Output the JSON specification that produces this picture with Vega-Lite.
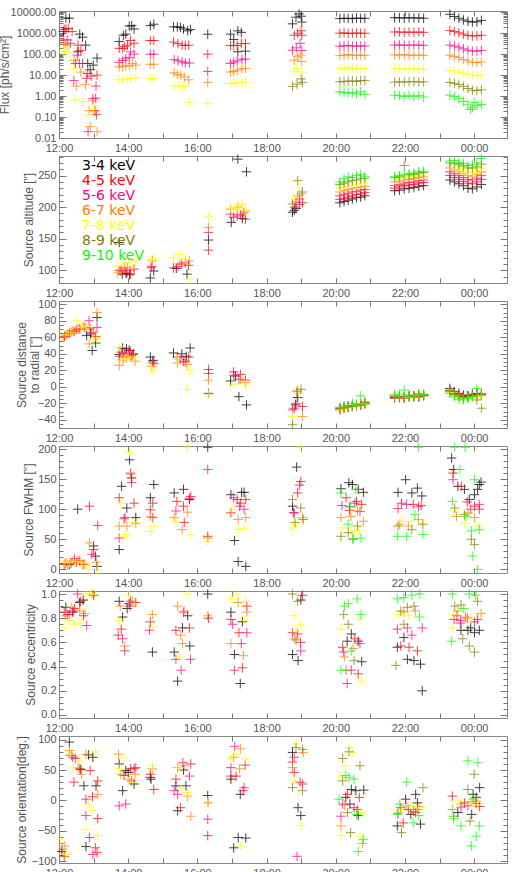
{
"$schema":"https://vega.github.io/schema/vega-lite/v6.json",
"padding":{"left":-3,"top":5,"right":0,"bottom":0},
"background":"white",
"spacing":18,
"bounds":"flush",
"config":{"view":{"stroke":"#888","strokeWidth":1},"font":"Liberation Sans",
"axis":{"grid":false,"domain":false,"tickColor":"#777","tickWidth":1,"tickSize":-5,"labelFont":"Liberation Sans","labelFontSize":11,"labelColor":"#555","labelPadding":9,"titleFont":"Liberation Sans","titleFontSize":12,"titleFontWeight":"normal","titleColor":"#555","labelOverlap":false,"labelBound":false,"labelFlush":false}},
"resolve":{"legend":{"color":"independent"}},
"datasets":{
"p1":[
{"t":12.13,"b":"3-4","v":1200},{"t":12.2,"b":"3-4","v":5300},{"t":12.3,"b":"3-4","v":5200},{"t":12.55,"b":"3-4","v":130},{"t":12.6,"b":"3-4","v":900},{"t":12.68,"b":"3-4","v":650},{"t":12.77,"b":"3-4","v":270},{"t":12.83,"b":"3-4","v":36},{"t":12.9,"b":"3-4","v":18},{"t":12.99,"b":"3-4","v":30},{"t":13.1,"b":"3-4","v":65},
{"t":12.15,"b":"4-5","v":1500},{"t":12.2,"b":"4-5","v":1600},{"t":12.27,"b":"4-5","v":1700},{"t":12.38,"b":"4-5","v":1200},{"t":12.48,"b":"4-5","v":36},{"t":12.55,"b":"4-5","v":270},{"t":12.63,"b":"4-5","v":150},{"t":12.68,"b":"4-5","v":36},{"t":12.83,"b":"4-5","v":12},{"t":12.93,"b":"4-5","v":9},{"t":13.04,"b":"4-5","v":0.2},{"t":13.08,"b":"4-5","v":0.13},{"t":13.1,"b":"4-5","v":10},
{"t":12.14,"b":"5-6","v":480},{"t":12.24,"b":"5-6","v":480},{"t":12.33,"b":"5-6","v":330},{"t":12.43,"b":"5-6","v":5.5},{"t":12.53,"b":"5-6","v":90},{"t":12.59,"b":"5-6","v":36},{"t":12.8,"b":"5-6","v":7},{"t":12.84,"b":"5-6","v":0.02},{"t":12.98,"b":"5-6","v":0.75},{"t":13.06,"b":"5-6","v":0.8},{"t":13.07,"b":"5-6","v":3},
{"t":12.14,"b":"6-7","v":300},{"t":12.19,"b":"6-7","v":300},{"t":12.26,"b":"6-7","v":270},{"t":12.43,"b":"6-7","v":50},{"t":12.5,"b":"6-7","v":3},{"t":12.63,"b":"6-7","v":14},{"t":12.77,"b":"6-7","v":3.5},{"t":12.87,"b":"6-7","v":0.2},{"t":12.9,"b":"6-7","v":0.035},{"t":12.98,"b":"6-7","v":0.6},{"t":13.1,"b":"6-7","v":0.02},
{"t":12.12,"b":"7-8","v":130},{"t":12.19,"b":"7-8","v":130},{"t":12.29,"b":"7-8","v":115},{"t":12.43,"b":"7-8","v":20},{"t":12.47,"b":"7-8","v":0.65},{"t":12.69,"b":"7-8","v":0.55},{"t":12.84,"b":"7-8","v":0.12},{"t":13.0,"b":"7-8","v":0.25},
{"t":13.74,"b":"3-4","v":400},{"t":13.86,"b":"3-4","v":800},{"t":13.93,"b":"3-4","v":900},{"t":14.03,"b":"3-4","v":2200},{"t":14.1,"b":"3-4","v":2300},{"t":14.17,"b":"3-4","v":1600},
{"t":13.74,"b":"4-5","v":190},{"t":13.84,"b":"4-5","v":190},{"t":13.9,"b":"4-5","v":230},{"t":13.98,"b":"4-5","v":270},{"t":14.07,"b":"4-5","v":450},{"t":14.17,"b":"4-5","v":330},
{"t":13.74,"b":"5-6","v":40},{"t":13.84,"b":"5-6","v":50},{"t":13.93,"b":"5-6","v":60},{"t":14.03,"b":"5-6","v":70},{"t":14.07,"b":"5-6","v":130},{"t":14.17,"b":"5-6","v":100},
{"t":13.74,"b":"6-7","v":25},{"t":13.84,"b":"6-7","v":25},{"t":13.93,"b":"6-7","v":28},{"t":14.03,"b":"6-7","v":28},{"t":14.12,"b":"6-7","v":36},{"t":14.22,"b":"6-7","v":30},
{"t":13.74,"b":"7-8","v":6},{"t":13.84,"b":"7-8","v":6},{"t":13.97,"b":"7-8","v":6.5},{"t":14.07,"b":"7-8","v":7},{"t":14.22,"b":"7-8","v":7.5},
{"t":14.64,"b":"3-4","v":2300},{"t":14.74,"b":"3-4","v":2700},{"t":14.64,"b":"4-5","v":450},{"t":14.74,"b":"4-5","v":450},{"t":14.64,"b":"5-6","v":100},{"t":14.74,"b":"5-6","v":100},{"t":14.64,"b":"6-7","v":33},{"t":14.74,"b":"6-7","v":33},{"t":14.64,"b":"7-8","v":7},{"t":14.74,"b":"7-8","v":7},
{"t":15.31,"b":"3-4","v":2000},{"t":15.42,"b":"3-4","v":2000},{"t":15.51,"b":"3-4","v":1900},{"t":15.6,"b":"3-4","v":1600},{"t":15.72,"b":"3-4","v":1300},{"t":15.8,"b":"3-4","v":1500},
{"t":15.31,"b":"4-5","v":380},{"t":15.44,"b":"4-5","v":320},{"t":15.56,"b":"4-5","v":270},{"t":15.65,"b":"4-5","v":260},{"t":15.75,"b":"4-5","v":270},
{"t":15.33,"b":"5-6","v":55},{"t":15.44,"b":"5-6","v":48},{"t":15.56,"b":"5-6","v":43},{"t":15.65,"b":"5-6","v":38},{"t":15.77,"b":"5-6","v":38},
{"t":15.33,"b":"6-7","v":13},{"t":15.42,"b":"6-7","v":11},{"t":15.52,"b":"6-7","v":10},{"t":15.62,"b":"6-7","v":8},{"t":15.75,"b":"6-7","v":6},
{"t":15.33,"b":"7-8","v":3},{"t":15.47,"b":"7-8","v":3},{"t":15.56,"b":"7-8","v":3},{"t":15.65,"b":"7-8","v":3},{"t":15.77,"b":"7-8","v":0.5},
{"t":16.3,"b":"3-4","v":900},{"t":16.3,"b":"4-5","v":100},{"t":16.3,"b":"5-6","v":15},{"t":16.3,"b":"6-7","v":4.5},{"t":16.3,"b":"7-8","v":0.45},
{"t":16.96,"b":"3-4","v":900},{"t":17.05,"b":"3-4","v":500},{"t":17.17,"b":"3-4","v":1300},{"t":17.27,"b":"3-4","v":1100},{"t":17.17,"b":"3-4","v":130},{"t":17.39,"b":"3-4","v":140},
{"t":16.96,"b":"4-5","v":260},{"t":17.05,"b":"4-5","v":260},{"t":17.15,"b":"4-5","v":260},{"t":17.27,"b":"4-5","v":320},{"t":17.39,"b":"4-5","v":320},
{"t":16.96,"b":"5-6","v":36},{"t":17.05,"b":"5-6","v":42},{"t":17.15,"b":"5-6","v":48},{"t":17.29,"b":"5-6","v":58},{"t":17.39,"b":"5-6","v":58},
{"t":16.96,"b":"6-7","v":14},{"t":17.05,"b":"6-7","v":15},{"t":17.15,"b":"6-7","v":17},{"t":17.29,"b":"6-7","v":20},{"t":17.39,"b":"6-7","v":21},
{"t":16.96,"b":"7-8","v":4},{"t":17.05,"b":"7-8","v":4},{"t":17.15,"b":"7-8","v":4.3},{"t":17.29,"b":"7-8","v":4.6},{"t":17.39,"b":"7-8","v":4.6},
{"t":18.75,"b":"3-4","v":2800},{"t":18.85,"b":"3-4","v":5800},{"t":18.94,"b":"3-4","v":8300},{"t":19.0,"b":"3-4","v":6500},{"t":19.02,"b":"3-4","v":3400},
{"t":18.8,"b":"4-5","v":800},{"t":18.9,"b":"4-5","v":1000},{"t":19.0,"b":"4-5","v":1300},{"t":19.02,"b":"4-5","v":800},
{"t":18.75,"b":"5-6","v":155},{"t":18.86,"b":"5-6","v":200},{"t":18.97,"b":"5-6","v":330},{"t":19.02,"b":"5-6","v":150},
{"t":18.8,"b":"6-7","v":52},{"t":18.9,"b":"6-7","v":75},{"t":18.97,"b":"6-7","v":90},{"t":19.02,"b":"6-7","v":45},
{"t":18.8,"b":"7-8","v":15},{"t":18.88,"b":"7-8","v":21},{"t":19.02,"b":"7-8","v":14},
{"t":18.75,"b":"8-9","v":2.9},{"t":18.88,"b":"8-9","v":3.7},{"t":19.0,"b":"8-9","v":6.6},{"t":19.04,"b":"8-9","v":4.5},
{"t":20.12,"b":"3-4","v":5000},{"t":20.24,"b":"3-4","v":5200},{"t":20.36,"b":"3-4","v":5100},{"t":20.48,"b":"3-4","v":5000},{"t":20.6,"b":"3-4","v":5300},{"t":20.72,"b":"3-4","v":5100},{"t":20.84,"b":"3-4","v":5200},
{"t":20.12,"b":"4-5","v":1000},{"t":20.24,"b":"4-5","v":1050},{"t":20.36,"b":"4-5","v":980},{"t":20.48,"b":"4-5","v":1000},{"t":20.6,"b":"4-5","v":1020},{"t":20.72,"b":"4-5","v":990},{"t":20.84,"b":"4-5","v":1000},
{"t":20.12,"b":"5-6","v":240},{"t":20.24,"b":"5-6","v":250},{"t":20.36,"b":"5-6","v":260},{"t":20.48,"b":"5-6","v":245},{"t":20.6,"b":"5-6","v":240},{"t":20.72,"b":"5-6","v":250},{"t":20.84,"b":"5-6","v":245},
{"t":20.12,"b":"6-7","v":85},{"t":20.24,"b":"6-7","v":90},{"t":20.36,"b":"6-7","v":95},{"t":20.48,"b":"6-7","v":90},{"t":20.6,"b":"6-7","v":88},{"t":20.72,"b":"6-7","v":90},{"t":20.84,"b":"6-7","v":88},
{"t":20.12,"b":"7-8","v":20},{"t":20.24,"b":"7-8","v":22},{"t":20.36,"b":"7-8","v":21},{"t":20.48,"b":"7-8","v":22},{"t":20.6,"b":"7-8","v":21},{"t":20.72,"b":"7-8","v":20},{"t":20.84,"b":"7-8","v":21},
{"t":20.12,"b":"8-9","v":4.8},{"t":20.24,"b":"8-9","v":5},{"t":20.36,"b":"8-9","v":5.2},{"t":20.48,"b":"8-9","v":5.3},{"t":20.6,"b":"8-9","v":5},{"t":20.72,"b":"8-9","v":5.5},{"t":20.84,"b":"8-9","v":5.6},
{"t":20.12,"b":"9-10","v":1.6},{"t":20.24,"b":"9-10","v":1.5},{"t":20.36,"b":"9-10","v":1.4},{"t":20.48,"b":"9-10","v":1.5},{"t":20.6,"b":"9-10","v":1.3},{"t":20.72,"b":"9-10","v":1.6},{"t":20.84,"b":"9-10","v":1.2},
{"t":21.7,"b":"3-4","v":5500},{"t":21.84,"b":"3-4","v":5400},{"t":21.98,"b":"3-4","v":5300},{"t":22.12,"b":"3-4","v":5500},{"t":22.26,"b":"3-4","v":5300},{"t":22.4,"b":"3-4","v":5400},{"t":22.54,"b":"3-4","v":5200},
{"t":21.7,"b":"4-5","v":1150},{"t":21.84,"b":"4-5","v":1150},{"t":21.98,"b":"4-5","v":1100},{"t":22.12,"b":"4-5","v":1150},{"t":22.26,"b":"4-5","v":1100},{"t":22.4,"b":"4-5","v":1150},{"t":22.54,"b":"4-5","v":1100},
{"t":21.7,"b":"5-6","v":270},{"t":21.84,"b":"5-6","v":275},{"t":21.98,"b":"5-6","v":270},{"t":22.12,"b":"5-6","v":265},{"t":22.26,"b":"5-6","v":275},{"t":22.4,"b":"5-6","v":270},{"t":22.54,"b":"5-6","v":265},
{"t":21.7,"b":"6-7","v":92},{"t":21.84,"b":"6-7","v":90},{"t":21.98,"b":"6-7","v":95},{"t":22.12,"b":"6-7","v":90},{"t":22.26,"b":"6-7","v":88},{"t":22.4,"b":"6-7","v":90},{"t":22.54,"b":"6-7","v":88},
{"t":21.7,"b":"7-8","v":20},{"t":21.84,"b":"7-8","v":21},{"t":21.98,"b":"7-8","v":20},{"t":22.12,"b":"7-8","v":20},{"t":22.26,"b":"7-8","v":21},{"t":22.4,"b":"7-8","v":19},{"t":22.54,"b":"7-8","v":19},
{"t":21.7,"b":"8-9","v":4.6},{"t":21.84,"b":"8-9","v":4.8},{"t":21.98,"b":"8-9","v":4.7},{"t":22.12,"b":"8-9","v":4.8},{"t":22.26,"b":"8-9","v":4.9},{"t":22.4,"b":"8-9","v":4.7},{"t":22.54,"b":"8-9","v":4.8},
{"t":21.7,"b":"9-10","v":1.1},{"t":21.84,"b":"9-10","v":1.05},{"t":21.98,"b":"9-10","v":0.95},{"t":22.12,"b":"9-10","v":1.1},{"t":22.26,"b":"9-10","v":0.95},{"t":22.4,"b":"9-10","v":1.05},{"t":22.54,"b":"9-10","v":0.9},
{"t":23.3,"b":"3-4","v":8000},{"t":23.43,"b":"3-4","v":6300},{"t":23.56,"b":"3-4","v":5200},{"t":23.69,"b":"3-4","v":4300},{"t":23.82,"b":"3-4","v":3700},{"t":23.95,"b":"3-4","v":3400},{"t":24.08,"b":"3-4","v":3500},{"t":24.21,"b":"3-4","v":4100},
{"t":23.3,"b":"4-5","v":1350},{"t":23.43,"b":"4-5","v":1200},{"t":23.56,"b":"4-5","v":1050},{"t":23.69,"b":"4-5","v":900},{"t":23.82,"b":"4-5","v":780},{"t":23.95,"b":"4-5","v":740},{"t":24.08,"b":"4-5","v":750},{"t":24.21,"b":"4-5","v":800},
{"t":23.3,"b":"5-6","v":270},{"t":23.43,"b":"5-6","v":245},{"t":23.56,"b":"5-6","v":215},{"t":23.69,"b":"5-6","v":180},{"t":23.82,"b":"5-6","v":155},{"t":23.95,"b":"5-6","v":140},{"t":24.08,"b":"5-6","v":140},{"t":24.21,"b":"5-6","v":150},
{"t":23.3,"b":"6-7","v":90},{"t":23.43,"b":"6-7","v":78},{"t":23.56,"b":"6-7","v":68},{"t":23.69,"b":"6-7","v":56},{"t":23.82,"b":"6-7","v":47},{"t":23.95,"b":"6-7","v":41},{"t":24.08,"b":"6-7","v":40},{"t":24.21,"b":"6-7","v":42},
{"t":23.3,"b":"7-8","v":17},{"t":23.43,"b":"7-8","v":16},{"t":23.56,"b":"7-8","v":14.5},{"t":23.69,"b":"7-8","v":12.5},{"t":23.82,"b":"7-8","v":11},{"t":23.95,"b":"7-8","v":9.8},{"t":24.08,"b":"7-8","v":9.5},{"t":24.21,"b":"7-8","v":10},
{"t":23.3,"b":"8-9","v":4.5},{"t":23.43,"b":"8-9","v":4.1},{"t":23.56,"b":"8-9","v":3.6},{"t":23.69,"b":"8-9","v":2.9},{"t":23.82,"b":"8-9","v":2.3},{"t":23.95,"b":"8-9","v":1.9},{"t":24.08,"b":"8-9","v":1.8},{"t":24.21,"b":"8-9","v":2.0},
{"t":23.3,"b":"9-10","v":1.1},{"t":23.43,"b":"9-10","v":0.95},{"t":23.56,"b":"9-10","v":0.75},{"t":23.69,"b":"9-10","v":0.55},{"t":23.82,"b":"9-10","v":0.38},{"t":23.95,"b":"9-10","v":0.28},{"t":24.08,"b":"9-10","v":0.35},{"t":24.21,"b":"9-10","v":0.4},{"t":23.9,"b":"9-10","v":0.23},{"t":24.0,"b":"9-10","v":0.5}
],
"p2":[
{"t":13.74,"b":"3-4","v":144},{"t":13.83,"b":"3-4","v":94},{"t":13.96,"b":"3-4","v":95},{"t":14.04,"b":"3-4","v":93},
{"t":13.79,"b":"4-5","v":99},{"t":13.93,"b":"4-5","v":96},{"t":14.07,"b":"4-5","v":94},{"t":14.17,"b":"4-5","v":102},
{"t":13.74,"b":"5-6","v":100},{"t":13.9,"b":"5-6","v":104},{"t":14.05,"b":"5-6","v":100},
{"t":13.7,"b":"6-7","v":96},{"t":13.81,"b":"6-7","v":102},{"t":13.98,"b":"6-7","v":104},
{"t":13.7,"b":"7-8","v":107},{"t":13.88,"b":"7-8","v":112},{"t":14.02,"b":"7-8","v":113},{"t":14.12,"b":"7-8","v":104},{"t":14.22,"b":"7-8","v":115},
{"t":14.64,"b":"3-4","v":88},{"t":14.74,"b":"3-4","v":99},{"t":14.66,"b":"4-5","v":104},{"t":14.68,"b":"5-6","v":106},{"t":14.7,"b":"6-7","v":115},{"t":14.66,"b":"7-8","v":117},{"t":14.76,"b":"7-8","v":119},
{"t":15.39,"b":"3-4","v":103},{"t":15.7,"b":"3-4","v":94},{"t":15.31,"b":"4-5","v":104},{"t":15.55,"b":"4-5","v":110},{"t":15.74,"b":"4-5","v":108},{"t":15.44,"b":"5-6","v":106},{"t":15.65,"b":"5-6","v":112},{"t":15.49,"b":"6-7","v":110},{"t":15.77,"b":"6-7","v":115},{"t":15.31,"b":"7-8","v":120},{"t":15.5,"b":"7-8","v":125},{"t":15.65,"b":"7-8","v":118},{"t":15.78,"b":"7-8","v":86},
{"t":16.32,"b":"3-4","v":148},{"t":16.32,"b":"4-5","v":132},{"t":16.32,"b":"5-6","v":160},{"t":16.32,"b":"6-7","v":168},{"t":16.32,"b":"7-8","v":185},
{"t":16.98,"b":"3-4","v":176},{"t":17.17,"b":"3-4","v":276},{"t":17.42,"b":"3-4","v":256},{"t":17.3,"b":"3-4","v":182},
{"t":17.05,"b":"4-5","v":184},{"t":17.25,"b":"4-5","v":188},{"t":17.39,"b":"4-5","v":181},
{"t":16.96,"b":"5-6","v":189},{"t":17.15,"b":"5-6","v":186},{"t":17.34,"b":"5-6","v":191},
{"t":16.96,"b":"6-7","v":197},{"t":17.17,"b":"6-7","v":200},{"t":17.39,"b":"6-7","v":194},
{"t":16.96,"b":"7-8","v":200},{"t":17.1,"b":"7-8","v":198},{"t":17.2,"b":"7-8","v":203},{"t":17.29,"b":"7-8","v":205},{"t":17.39,"b":"7-8","v":195},
{"t":18.75,"b":"3-4","v":192},{"t":18.8,"b":"3-4","v":195},{"t":18.85,"b":"3-4","v":198},
{"t":18.8,"b":"4-5","v":200},{"t":18.95,"b":"4-5","v":204},{"t":19.04,"b":"4-5","v":207},
{"t":18.85,"b":"5-6","v":208},{"t":18.95,"b":"5-6","v":213},
{"t":18.9,"b":"6-7","v":218},{"t":19.0,"b":"6-7","v":221},
{"t":18.8,"b":"7-8","v":214},{"t":18.95,"b":"7-8","v":231},
{"t":18.75,"b":"8-9","v":205},{"t":18.9,"b":"8-9","v":242},{"t":19.04,"b":"8-9","v":224},
{"t":20.12,"b":"3-4","v":207},{"t":20.24,"b":"3-4","v":209},{"t":20.36,"b":"3-4","v":211},{"t":20.48,"b":"3-4","v":213},{"t":20.6,"b":"3-4","v":215},{"t":20.72,"b":"3-4","v":216},{"t":20.84,"b":"3-4","v":218},
{"t":20.12,"b":"4-5","v":212},{"t":20.24,"b":"4-5","v":214},{"t":20.36,"b":"4-5","v":216},{"t":20.48,"b":"4-5","v":218},{"t":20.6,"b":"4-5","v":220},{"t":20.72,"b":"4-5","v":221},{"t":20.84,"b":"4-5","v":223},
{"t":20.12,"b":"5-6","v":218},{"t":20.24,"b":"5-6","v":220},{"t":20.36,"b":"5-6","v":222},{"t":20.48,"b":"5-6","v":224},{"t":20.6,"b":"5-6","v":225},{"t":20.72,"b":"5-6","v":227},{"t":20.84,"b":"5-6","v":228},
{"t":20.12,"b":"6-7","v":224},{"t":20.24,"b":"6-7","v":226},{"t":20.36,"b":"6-7","v":228},{"t":20.48,"b":"6-7","v":229},{"t":20.6,"b":"6-7","v":231},{"t":20.72,"b":"6-7","v":232},{"t":20.84,"b":"6-7","v":233},
{"t":20.12,"b":"7-8","v":230},{"t":20.24,"b":"7-8","v":232},{"t":20.36,"b":"7-8","v":234},{"t":20.48,"b":"7-8","v":235},{"t":20.6,"b":"7-8","v":236},{"t":20.72,"b":"7-8","v":237},{"t":20.84,"b":"7-8","v":238},
{"t":20.12,"b":"8-9","v":236},{"t":20.24,"b":"8-9","v":238},{"t":20.36,"b":"8-9","v":240},{"t":20.48,"b":"8-9","v":242},{"t":20.6,"b":"8-9","v":243},{"t":20.72,"b":"8-9","v":245},{"t":20.84,"b":"8-9","v":246},
{"t":20.12,"b":"9-10","v":240},{"t":20.24,"b":"9-10","v":245},{"t":20.36,"b":"9-10","v":248},{"t":20.48,"b":"9-10","v":247},{"t":20.6,"b":"9-10","v":250},{"t":20.72,"b":"9-10","v":252},{"t":20.84,"b":"9-10","v":249},
{"t":21.7,"b":"3-4","v":226},{"t":21.84,"b":"3-4","v":227},{"t":21.98,"b":"3-4","v":229},{"t":22.12,"b":"3-4","v":230},{"t":22.26,"b":"3-4","v":231},{"t":22.4,"b":"3-4","v":233},{"t":22.54,"b":"3-4","v":234},
{"t":21.7,"b":"4-5","v":230},{"t":21.84,"b":"4-5","v":232},{"t":21.98,"b":"4-5","v":234},{"t":22.12,"b":"4-5","v":235},{"t":22.26,"b":"4-5","v":236},{"t":22.4,"b":"4-5","v":238},{"t":22.54,"b":"4-5","v":239},
{"t":21.7,"b":"5-6","v":234},{"t":21.84,"b":"5-6","v":236},{"t":21.98,"b":"5-6","v":238},{"t":22.12,"b":"5-6","v":239},{"t":22.26,"b":"5-6","v":240},{"t":22.4,"b":"5-6","v":242},{"t":22.54,"b":"5-6","v":243},
{"t":21.7,"b":"6-7","v":240},{"t":21.84,"b":"6-7","v":241},{"t":21.98,"b":"6-7","v":243},{"t":22.12,"b":"6-7","v":244},{"t":22.26,"b":"6-7","v":245},{"t":22.4,"b":"6-7","v":247},{"t":22.54,"b":"6-7","v":248},
{"t":21.7,"b":"7-8","v":244},{"t":21.84,"b":"7-8","v":245},{"t":21.98,"b":"7-8","v":247},{"t":22.12,"b":"7-8","v":248},{"t":22.26,"b":"7-8","v":249},{"t":22.4,"b":"7-8","v":250},{"t":22.54,"b":"7-8","v":251},
{"t":21.7,"b":"8-9","v":247},{"t":21.84,"b":"8-9","v":248},{"t":21.98,"b":"8-9","v":266},{"t":22.12,"b":"8-9","v":251},{"t":22.26,"b":"8-9","v":252},{"t":22.4,"b":"8-9","v":254},{"t":22.54,"b":"8-9","v":255},
{"t":21.7,"b":"9-10","v":248},{"t":21.84,"b":"9-10","v":250},{"t":21.98,"b":"9-10","v":252},{"t":22.12,"b":"9-10","v":253},{"t":22.26,"b":"9-10","v":254},{"t":22.4,"b":"9-10","v":256},{"t":22.54,"b":"9-10","v":257},
{"t":23.3,"b":"3-4","v":243},{"t":23.43,"b":"3-4","v":240},{"t":23.56,"b":"3-4","v":237},{"t":23.69,"b":"3-4","v":234},{"t":23.82,"b":"3-4","v":230},{"t":23.95,"b":"3-4","v":229},{"t":24.08,"b":"3-4","v":232},{"t":24.21,"b":"3-4","v":236},
{"t":23.3,"b":"4-5","v":250},{"t":23.43,"b":"4-5","v":247},{"t":23.56,"b":"4-5","v":244},{"t":23.69,"b":"4-5","v":241},{"t":23.82,"b":"4-5","v":238},{"t":23.95,"b":"4-5","v":237},{"t":24.08,"b":"4-5","v":240},{"t":24.21,"b":"4-5","v":244},
{"t":23.3,"b":"5-6","v":256},{"t":23.43,"b":"5-6","v":253},{"t":23.56,"b":"5-6","v":250},{"t":23.69,"b":"5-6","v":247},{"t":23.82,"b":"5-6","v":244},{"t":23.95,"b":"5-6","v":243},{"t":24.08,"b":"5-6","v":246},{"t":24.21,"b":"5-6","v":250},
{"t":23.3,"b":"6-7","v":262},{"t":23.43,"b":"6-7","v":259},{"t":23.56,"b":"6-7","v":256},{"t":23.69,"b":"6-7","v":253},{"t":23.82,"b":"6-7","v":250},{"t":23.95,"b":"6-7","v":249},{"t":24.08,"b":"6-7","v":252},{"t":24.21,"b":"6-7","v":256},
{"t":23.3,"b":"7-8","v":266},{"t":23.43,"b":"7-8","v":263},{"t":23.56,"b":"7-8","v":261},{"t":23.69,"b":"7-8","v":258},{"t":23.82,"b":"7-8","v":256},{"t":23.95,"b":"7-8","v":255},{"t":24.08,"b":"7-8","v":258},{"t":24.21,"b":"7-8","v":262},
{"t":23.3,"b":"8-9","v":270},{"t":23.43,"b":"8-9","v":269},{"t":23.56,"b":"8-9","v":267},{"t":23.69,"b":"8-9","v":265},{"t":23.82,"b":"8-9","v":262},{"t":23.95,"b":"8-9","v":262},{"t":24.08,"b":"8-9","v":264},{"t":24.21,"b":"8-9","v":268},
{"t":23.3,"b":"9-10","v":273},{"t":23.43,"b":"9-10","v":274},{"t":23.56,"b":"9-10","v":271},{"t":23.69,"b":"9-10","v":269},{"t":23.82,"b":"9-10","v":266},{"t":23.95,"b":"9-10","v":267},{"t":24.08,"b":"9-10","v":270},{"t":24.21,"b":"9-10","v":277}
],
"p3":[
{"t":12.8,"b":"3-4","v":62},{"t":12.91,"b":"3-4","v":64},{"t":12.96,"b":"3-4","v":44},{"t":13.06,"b":"3-4","v":53},{"t":13.1,"b":"3-4","v":84},
{"t":12.16,"b":"4-5","v":61},{"t":12.3,"b":"4-5","v":65},{"t":12.44,"b":"4-5","v":67},{"t":12.6,"b":"4-5","v":70},{"t":12.75,"b":"4-5","v":72},{"t":12.9,"b":"4-5","v":70},{"t":13.06,"b":"4-5","v":61},
{"t":12.2,"b":"5-6","v":63},{"t":12.35,"b":"5-6","v":66},{"t":12.5,"b":"5-6","v":69},{"t":12.87,"b":"5-6","v":80},{"t":13.1,"b":"5-6","v":72},{"t":12.95,"b":"5-6","v":66},
{"t":12.12,"b":"6-7","v":60},{"t":12.25,"b":"6-7","v":64},{"t":12.4,"b":"6-7","v":68},{"t":12.55,"b":"6-7","v":70},{"t":12.7,"b":"6-7","v":73},{"t":12.87,"b":"6-7","v":52},{"t":13.1,"b":"6-7","v":90},{"t":13.0,"b":"6-7","v":66},
{"t":12.2,"b":"7-8","v":63},{"t":12.35,"b":"7-8","v":66},{"t":12.52,"b":"7-8","v":80},{"t":12.65,"b":"7-8","v":72},{"t":12.8,"b":"7-8","v":73},{"t":13.1,"b":"7-8","v":58},{"t":12.98,"b":"7-8","v":57},
{"t":13.74,"b":"3-4","v":39},{"t":13.84,"b":"3-4","v":47},{"t":13.95,"b":"3-4","v":46},{"t":14.05,"b":"3-4","v":44},{"t":14.15,"b":"3-4","v":40},
{"t":13.8,"b":"4-5","v":42},{"t":13.9,"b":"4-5","v":40},{"t":14.02,"b":"4-5","v":44},{"t":14.12,"b":"4-5","v":39},
{"t":13.76,"b":"5-6","v":37},{"t":13.88,"b":"5-6","v":36},{"t":14.0,"b":"5-6","v":41},{"t":14.1,"b":"5-6","v":38},
{"t":13.74,"b":"6-7","v":26},{"t":13.85,"b":"6-7","v":33},{"t":13.95,"b":"6-7","v":35},{"t":14.07,"b":"6-7","v":37},{"t":14.2,"b":"6-7","v":31},
{"t":13.74,"b":"7-8","v":48},{"t":13.8,"b":"7-8","v":34},{"t":13.9,"b":"7-8","v":33},{"t":14.0,"b":"7-8","v":36},{"t":14.17,"b":"7-8","v":35},
{"t":14.64,"b":"3-4","v":36},{"t":14.72,"b":"3-4","v":32},{"t":14.74,"b":"4-5","v":28},{"t":14.7,"b":"5-6","v":30},{"t":14.68,"b":"6-7","v":25},{"t":14.68,"b":"7-8","v":23},{"t":14.74,"b":"7-8","v":19},
{"t":15.31,"b":"3-4","v":41},{"t":15.55,"b":"3-4","v":40},{"t":15.79,"b":"3-4","v":47},{"t":15.68,"b":"3-4","v":37},
{"t":15.42,"b":"4-5","v":36},{"t":15.6,"b":"4-5","v":31},{"t":15.75,"b":"4-5","v":36},
{"t":15.5,"b":"5-6","v":33},{"t":15.65,"b":"5-6","v":30},
{"t":15.42,"b":"6-7","v":29},{"t":15.7,"b":"6-7","v":27},
{"t":15.42,"b":"7-8","v":33},{"t":15.79,"b":"7-8","v":20},{"t":15.71,"b":"7-8","v":-3},
{"t":16.32,"b":"4-5","v":21},{"t":16.32,"b":"5-6","v":16},{"t":16.32,"b":"6-7","v":8},{"t":16.32,"b":"3-4","v":-8},{"t":16.32,"b":"7-8","v":-9},
{"t":16.96,"b":"3-4","v":7},{"t":17.1,"b":"3-4","v":13},{"t":17.2,"b":"3-4","v":-12},{"t":17.42,"b":"3-4","v":-22},
{"t":17.05,"b":"4-5","v":18},{"t":17.25,"b":"4-5","v":15},{"t":17.39,"b":"4-5","v":8},
{"t":17.05,"b":"5-6","v":14},{"t":17.2,"b":"5-6","v":9},
{"t":17.25,"b":"6-7","v":9},{"t":17.39,"b":"6-7","v":5},
{"t":17.05,"b":"7-8","v":3},{"t":17.39,"b":"7-8","v":2},
{"t":18.84,"b":"3-4","v":-22},{"t":18.9,"b":"3-4","v":-13},
{"t":18.8,"b":"4-5","v":-26},{"t":19.04,"b":"4-5","v":-24},
{"t":18.75,"b":"5-6","v":-28},{"t":18.85,"b":"5-6","v":-20},
{"t":18.9,"b":"6-7","v":-4},{"t":19.04,"b":"6-7","v":-36},
{"t":18.75,"b":"7-8","v":-36},{"t":18.95,"b":"7-8","v":-8},
{"t":18.75,"b":"8-9","v":-46},{"t":18.87,"b":"8-9","v":-6},{"t":19.0,"b":"8-9","v":-3},
{"t":20.12,"b":"3-4","v":-27},{"t":20.24,"b":"3-4","v":-26},{"t":20.36,"b":"3-4","v":-24},{"t":20.48,"b":"3-4","v":-24},{"t":20.6,"b":"3-4","v":-23},{"t":20.72,"b":"3-4","v":-22},{"t":20.84,"b":"3-4","v":-21},
{"t":20.12,"b":"4-5","v":-26},{"t":20.24,"b":"4-5","v":-25},{"t":20.36,"b":"4-5","v":-24},{"t":20.48,"b":"4-5","v":-23},{"t":20.6,"b":"4-5","v":-22},{"t":20.72,"b":"4-5","v":-21},{"t":20.84,"b":"4-5","v":-20},
{"t":20.12,"b":"5-6","v":-28},{"t":20.24,"b":"5-6","v":-26},{"t":20.36,"b":"5-6","v":-25},{"t":20.48,"b":"5-6","v":-23},{"t":20.6,"b":"5-6","v":-22},{"t":20.72,"b":"5-6","v":-22},{"t":20.84,"b":"5-6","v":-20},
{"t":20.12,"b":"6-7","v":-27},{"t":20.24,"b":"6-7","v":-26},{"t":20.36,"b":"6-7","v":-24},{"t":20.48,"b":"6-7","v":-23},{"t":20.6,"b":"6-7","v":-23},{"t":20.72,"b":"6-7","v":-21},{"t":20.84,"b":"6-7","v":-20},
{"t":20.12,"b":"7-8","v":-28},{"t":20.24,"b":"7-8","v":-27},{"t":20.36,"b":"7-8","v":-25},{"t":20.48,"b":"7-8","v":-24},{"t":20.6,"b":"7-8","v":-22},{"t":20.72,"b":"7-8","v":-21},{"t":20.84,"b":"7-8","v":-21},
{"t":20.12,"b":"8-9","v":-26},{"t":20.24,"b":"8-9","v":-25},{"t":20.36,"b":"8-9","v":-23},{"t":20.48,"b":"8-9","v":-24},{"t":20.6,"b":"8-9","v":-21},{"t":20.72,"b":"8-9","v":-22},{"t":20.84,"b":"8-9","v":-19},
{"t":20.12,"b":"9-10","v":-25},{"t":20.24,"b":"9-10","v":-23},{"t":20.36,"b":"9-10","v":-25},{"t":20.48,"b":"9-10","v":-20},{"t":20.6,"b":"9-10","v":-22},{"t":20.72,"b":"9-10","v":-11},{"t":20.84,"b":"9-10","v":-18},
{"t":21.7,"b":"3-4","v":-13},{"t":21.84,"b":"3-4","v":-12},{"t":21.98,"b":"3-4","v":-13},{"t":22.12,"b":"3-4","v":-12},{"t":22.26,"b":"3-4","v":-11},{"t":22.4,"b":"3-4","v":-12},{"t":22.54,"b":"3-4","v":-10},
{"t":21.7,"b":"4-5","v":-12},{"t":21.84,"b":"4-5","v":-13},{"t":21.98,"b":"4-5","v":-14},{"t":22.12,"b":"4-5","v":-12},{"t":22.26,"b":"4-5","v":-12},{"t":22.4,"b":"4-5","v":-11},{"t":22.54,"b":"4-5","v":-11},
{"t":21.7,"b":"5-6","v":-14},{"t":21.84,"b":"5-6","v":-13},{"t":21.98,"b":"5-6","v":-12},{"t":22.12,"b":"5-6","v":-12},{"t":22.26,"b":"5-6","v":-11},{"t":22.4,"b":"5-6","v":-12},{"t":22.54,"b":"5-6","v":-10},
{"t":21.7,"b":"6-7","v":-12},{"t":21.84,"b":"6-7","v":-11},{"t":21.98,"b":"6-7","v":-13},{"t":22.12,"b":"6-7","v":-11},{"t":22.26,"b":"6-7","v":-12},{"t":22.4,"b":"6-7","v":-10},{"t":22.54,"b":"6-7","v":-11},
{"t":21.7,"b":"7-8","v":-11},{"t":21.84,"b":"7-8","v":-12},{"t":21.98,"b":"7-8","v":-11},{"t":22.12,"b":"7-8","v":-13},{"t":22.26,"b":"7-8","v":-11},{"t":22.4,"b":"7-8","v":-10},{"t":22.54,"b":"7-8","v":-9},
{"t":21.7,"b":"8-9","v":-10},{"t":21.84,"b":"8-9","v":-12},{"t":21.98,"b":"8-9","v":-12},{"t":22.12,"b":"8-9","v":-10},{"t":22.26,"b":"8-9","v":-11},{"t":22.4,"b":"8-9","v":-9},{"t":22.54,"b":"8-9","v":-10},
{"t":21.7,"b":"9-10","v":-11},{"t":21.84,"b":"9-10","v":-9},{"t":21.98,"b":"9-10","v":-4},{"t":22.12,"b":"9-10","v":-12},{"t":22.26,"b":"9-10","v":-13},{"t":22.4,"b":"9-10","v":-8},{"t":22.54,"b":"9-10","v":-9},
{"t":23.3,"b":"3-4","v":-2},{"t":23.43,"b":"3-4","v":-6},{"t":23.56,"b":"3-4","v":-8},{"t":23.69,"b":"3-4","v":-10},{"t":23.82,"b":"3-4","v":-11},{"t":23.95,"b":"3-4","v":-9},{"t":24.08,"b":"3-4","v":-8},{"t":24.21,"b":"3-4","v":-10},
{"t":23.3,"b":"4-5","v":-5},{"t":23.43,"b":"4-5","v":-8},{"t":23.56,"b":"4-5","v":-10},{"t":23.69,"b":"4-5","v":-12},{"t":23.82,"b":"4-5","v":-11},{"t":23.95,"b":"4-5","v":-10},{"t":24.08,"b":"4-5","v":-9},{"t":24.21,"b":"4-5","v":-9},
{"t":23.3,"b":"5-6","v":-4},{"t":23.43,"b":"5-6","v":-9},{"t":23.56,"b":"5-6","v":-11},{"t":23.69,"b":"5-6","v":-13},{"t":23.82,"b":"5-6","v":-12},{"t":23.95,"b":"5-6","v":-11},{"t":24.08,"b":"5-6","v":-10},{"t":24.21,"b":"5-6","v":-8},
{"t":23.3,"b":"6-7","v":-6},{"t":23.43,"b":"6-7","v":-10},{"t":23.56,"b":"6-7","v":-12},{"t":23.69,"b":"6-7","v":-14},{"t":23.82,"b":"6-7","v":-13},{"t":23.95,"b":"6-7","v":-12},{"t":24.08,"b":"6-7","v":-11},{"t":24.21,"b":"6-7","v":-10},
{"t":23.3,"b":"7-8","v":-7},{"t":23.43,"b":"7-8","v":-11},{"t":23.56,"b":"7-8","v":-13},{"t":23.69,"b":"7-8","v":-15},{"t":23.82,"b":"7-8","v":-14},{"t":23.95,"b":"7-8","v":-13},{"t":24.08,"b":"7-8","v":-12},{"t":24.21,"b":"7-8","v":-11},
{"t":23.3,"b":"8-9","v":-5},{"t":23.43,"b":"8-9","v":-9},{"t":23.56,"b":"8-9","v":-11},{"t":23.69,"b":"8-9","v":-13},{"t":23.82,"b":"8-9","v":-12},{"t":23.95,"b":"8-9","v":-10},{"t":24.08,"b":"8-9","v":-16},{"t":24.21,"b":"8-9","v":-26},
{"t":23.3,"b":"9-10","v":-8},{"t":23.43,"b":"9-10","v":-12},{"t":23.56,"b":"9-10","v":-15},{"t":23.69,"b":"9-10","v":-16},{"t":23.82,"b":"9-10","v":-14},{"t":23.95,"b":"9-10","v":-12},{"t":24.08,"b":"9-10","v":-2},{"t":24.21,"b":"9-10","v":-10}
],
"p4":[
{"t":12.54,"b":"3-4","v":100},{"t":13.0,"b":"3-4","v":39},{"t":13.05,"b":"3-4","v":22},{"t":13.1,"b":"3-4","v":5},{"t":12.3,"b":"3-4","v":8},
{"t":12.15,"b":"4-5","v":8},{"t":12.35,"b":"4-5","v":10},{"t":12.5,"b":"4-5","v":12},{"t":12.88,"b":"4-5","v":105},{"t":13.0,"b":"4-5","v":33},{"t":12.7,"b":"4-5","v":8},
{"t":12.2,"b":"5-6","v":10},{"t":12.45,"b":"5-6","v":18},{"t":12.95,"b":"5-6","v":25},{"t":13.12,"b":"5-6","v":73},{"t":12.6,"b":"5-6","v":14},
{"t":12.25,"b":"6-7","v":7},{"t":12.4,"b":"6-7","v":14},{"t":12.55,"b":"6-7","v":15},{"t":12.88,"b":"6-7","v":44},{"t":13.08,"b":"6-7","v":12},{"t":12.75,"b":"6-7","v":9},
{"t":12.15,"b":"7-8","v":12},{"t":12.3,"b":"7-8","v":11},{"t":12.48,"b":"7-8","v":13},{"t":12.65,"b":"7-8","v":12},{"t":12.88,"b":"7-8","v":0},{"t":13.12,"b":"7-8","v":0},{"t":12.8,"b":"7-8","v":6},
{"t":13.74,"b":"3-4","v":33},{"t":13.81,"b":"3-4","v":138},{"t":13.96,"b":"3-4","v":102},{"t":14.04,"b":"3-4","v":182},{"t":14.1,"b":"3-4","v":152},{"t":14.22,"b":"3-4","v":86},
{"t":13.74,"b":"4-5","v":119},{"t":13.91,"b":"4-5","v":86},{"t":14.1,"b":"4-5","v":144},{"t":14.17,"b":"4-5","v":110},
{"t":13.74,"b":"5-6","v":52},{"t":13.88,"b":"5-6","v":84},{"t":14.07,"b":"5-6","v":160},
{"t":13.74,"b":"6-7","v":72},{"t":13.96,"b":"6-7","v":72},{"t":14.07,"b":"6-7","v":158},{"t":14.22,"b":"6-7","v":76},
{"t":13.79,"b":"7-8","v":110},{"t":13.88,"b":"7-8","v":55},{"t":13.94,"b":"7-8","v":58},{"t":14.04,"b":"7-8","v":194},{"t":14.17,"b":"7-8","v":78},
{"t":14.64,"b":"3-4","v":119},{"t":14.74,"b":"3-4","v":141},{"t":14.64,"b":"4-5","v":99},{"t":14.71,"b":"4-5","v":110},{"t":14.71,"b":"5-6","v":86},{"t":14.64,"b":"6-7","v":88},{"t":14.64,"b":"7-8","v":63},{"t":14.74,"b":"7-8","v":72},
{"t":15.33,"b":"3-4","v":127},{"t":15.6,"b":"3-4","v":133},{"t":15.77,"b":"3-4","v":116},
{"t":15.41,"b":"4-5","v":113},{"t":15.6,"b":"4-5","v":105},{"t":15.62,"b":"4-5","v":78},{"t":15.81,"b":"4-5","v":121},
{"t":15.38,"b":"5-6","v":97},{"t":15.77,"b":"5-6","v":118},
{"t":15.33,"b":"6-7","v":86},{"t":15.56,"b":"6-7","v":66},{"t":15.71,"b":"6-7","v":95},
{"t":15.38,"b":"7-8","v":80},{"t":15.81,"b":"7-8","v":57},{"t":15.71,"b":"7-8","v":203},
{"t":16.3,"b":"3-4","v":203},{"t":16.3,"b":"5-6","v":166},{"t":16.3,"b":"4-5","v":55},{"t":16.3,"b":"6-7","v":52},{"t":16.3,"b":"7-8","v":46},
{"t":16.97,"b":"3-4","v":124},{"t":17.07,"b":"3-4","v":48},{"t":17.18,"b":"3-4","v":13},{"t":17.28,"b":"3-4","v":128},{"t":17.35,"b":"3-4","v":128},{"t":17.4,"b":"3-4","v":5},
{"t":16.97,"b":"4-5","v":94},{"t":17.25,"b":"4-5","v":110},{"t":17.4,"b":"4-5","v":116},{"t":17.15,"b":"4-5","v":116},
{"t":17.05,"b":"5-6","v":119},{"t":17.22,"b":"5-6","v":105},{"t":17.35,"b":"5-6","v":100},
{"t":17.18,"b":"6-7","v":83},{"t":17.4,"b":"6-7","v":86},
{"t":17.0,"b":"7-8","v":100},{"t":17.18,"b":"7-8","v":66},{"t":17.35,"b":"7-8","v":68},
{"t":18.75,"b":"3-4","v":105},{"t":18.87,"b":"3-4","v":170},
{"t":18.78,"b":"4-5","v":94},{"t":18.9,"b":"4-5","v":127},{"t":18.99,"b":"4-5","v":146},
{"t":18.8,"b":"5-6","v":94},{"t":18.95,"b":"5-6","v":140},
{"t":19.04,"b":"6-7","v":86},
{"t":18.99,"b":"7-8","v":203},{"t":18.75,"b":"7-8","v":69},{"t":18.84,"b":"7-8","v":75},
{"t":18.75,"b":"8-9","v":116},{"t":18.82,"b":"8-9","v":78},{"t":18.99,"b":"8-9","v":102},{"t":19.06,"b":"8-9","v":83},
{"t":20.15,"b":"3-4","v":134},{"t":20.38,"b":"3-4","v":144},{"t":20.48,"b":"3-4","v":141},{"t":20.65,"b":"3-4","v":133},{"t":20.8,"b":"3-4","v":128},
{"t":20.3,"b":"4-5","v":119},{"t":20.6,"b":"4-5","v":113},{"t":20.75,"b":"4-5","v":108},{"t":20.4,"b":"4-5","v":98},
{"t":20.18,"b":"5-6","v":106},{"t":20.4,"b":"5-6","v":104},{"t":20.55,"b":"5-6","v":110},{"t":20.7,"b":"5-6","v":96},
{"t":20.15,"b":"6-7","v":86},{"t":20.44,"b":"6-7","v":88},{"t":20.63,"b":"6-7","v":97},{"t":20.8,"b":"6-7","v":80},
{"t":20.2,"b":"7-8","v":69},{"t":20.44,"b":"7-8","v":64},{"t":20.68,"b":"7-8","v":64},{"t":20.55,"b":"7-8","v":60},
{"t":20.15,"b":"8-9","v":55},{"t":20.36,"b":"8-9","v":61},{"t":20.63,"b":"8-9","v":72},{"t":20.5,"b":"8-9","v":50},
{"t":20.15,"b":"9-10","v":127},{"t":20.42,"b":"9-10","v":105},{"t":20.58,"b":"9-10","v":133},{"t":20.73,"b":"9-10","v":52},{"t":20.36,"b":"9-10","v":75},{"t":20.5,"b":"9-10","v":51},
{"t":21.8,"b":"3-4","v":128},{"t":22.02,"b":"3-4","v":149},{"t":22.2,"b":"3-4","v":127},{"t":22.36,"b":"3-4","v":135},{"t":22.49,"b":"3-4","v":122},
{"t":21.9,"b":"4-5","v":110},{"t":22.24,"b":"4-5","v":108},{"t":22.47,"b":"4-5","v":106},
{"t":21.8,"b":"5-6","v":101},{"t":22.05,"b":"5-6","v":108},{"t":22.39,"b":"5-6","v":104},
{"t":21.85,"b":"6-7","v":75},{"t":22.1,"b":"6-7","v":72},{"t":22.39,"b":"6-7","v":83},
{"t":21.9,"b":"7-8","v":80},{"t":22.2,"b":"7-8","v":80},{"t":22.49,"b":"7-8","v":77},
{"t":21.8,"b":"8-9","v":72},{"t":22.2,"b":"8-9","v":66},{"t":22.52,"b":"8-9","v":75},
{"t":21.78,"b":"9-10","v":55},{"t":22.05,"b":"9-10","v":55},{"t":22.29,"b":"9-10","v":91},{"t":22.52,"b":"9-10","v":58},{"t":22.39,"b":"9-10","v":203},
{"t":23.35,"b":"3-4","v":185},{"t":23.41,"b":"3-4","v":166},{"t":23.53,"b":"3-4","v":138},{"t":23.72,"b":"3-4","v":133},{"t":23.86,"b":"3-4","v":116},{"t":24.01,"b":"3-4","v":124},{"t":24.1,"b":"3-4","v":133},{"t":24.15,"b":"3-4","v":141},{"t":24.2,"b":"3-4","v":145},
{"t":23.39,"b":"4-5","v":160},{"t":23.63,"b":"4-5","v":138},{"t":24.01,"b":"4-5","v":105},{"t":23.8,"b":"4-5","v":112},{"t":24.15,"b":"4-5","v":100},
{"t":23.39,"b":"5-6","v":149},{"t":24.15,"b":"5-6","v":108},{"t":23.9,"b":"5-6","v":100},
{"t":23.49,"b":"6-7","v":88},{"t":23.82,"b":"6-7","v":94},{"t":24.01,"b":"6-7","v":86},
{"t":23.42,"b":"7-8","v":97},{"t":23.72,"b":"7-8","v":77},{"t":24.11,"b":"7-8","v":72},
{"t":23.44,"b":"8-9","v":102},{"t":23.72,"b":"8-9","v":91},{"t":23.92,"b":"8-9","v":50},{"t":24.01,"b":"8-9","v":41},
{"t":23.37,"b":"9-10","v":113},{"t":23.59,"b":"9-10","v":166},{"t":24.01,"b":"9-10","v":149},{"t":23.76,"b":"9-10","v":88},{"t":23.92,"b":"9-10","v":64},{"t":24.15,"b":"9-10","v":66},{"t":23.96,"b":"9-10","v":22},{"t":24.1,"b":"9-10","v":0},{"t":23.44,"b":"9-10","v":203},{"t":23.74,"b":"9-10","v":203}
],
"p5":[
{"t":12.2,"b":"3-4","v":0.89},{"t":12.4,"b":"3-4","v":0.85},{"t":12.6,"b":"3-4","v":0.93},{"t":12.7,"b":"3-4","v":0.95},
{"t":12.15,"b":"4-5","v":0.85},{"t":12.3,"b":"4-5","v":0.83},{"t":12.63,"b":"4-5","v":0.94},{"t":12.71,"b":"4-5","v":0.82},{"t":13.0,"b":"4-5","v":0.99},{"t":12.45,"b":"4-5","v":0.88},
{"t":12.25,"b":"5-6","v":0.83},{"t":12.54,"b":"5-6","v":1.0},{"t":12.8,"b":"5-6","v":0.74},{"t":12.4,"b":"5-6","v":0.86},
{"t":12.35,"b":"6-7","v":0.89},{"t":12.6,"b":"6-7","v":0.86},{"t":12.75,"b":"6-7","v":0.84},{"t":12.95,"b":"6-7","v":1.0},{"t":12.2,"b":"6-7","v":0.82},
{"t":12.15,"b":"7-8","v":0.72},{"t":12.3,"b":"7-8","v":0.78},{"t":12.45,"b":"7-8","v":0.75},{"t":12.63,"b":"7-8","v":0.76},{"t":12.78,"b":"7-8","v":1.0},{"t":12.93,"b":"7-8","v":1.0},{"t":13.05,"b":"7-8","v":1.0},
{"t":13.74,"b":"3-4","v":0.94},{"t":13.84,"b":"3-4","v":0.81},{"t":13.97,"b":"3-4","v":0.88},{"t":14.03,"b":"3-4","v":0.92},
{"t":13.71,"b":"4-5","v":0.66},{"t":13.8,"b":"4-5","v":0.71},{"t":14.07,"b":"4-5","v":0.94},{"t":14.22,"b":"4-5","v":0.93},
{"t":13.84,"b":"5-6","v":0.63},{"t":13.9,"b":"5-6","v":0.53},{"t":14.05,"b":"5-6","v":0.9},
{"t":13.77,"b":"6-7","v":0.9},{"t":13.9,"b":"6-7","v":0.57},{"t":14.12,"b":"6-7","v":0.94},
{"t":13.74,"b":"7-8","v":0.78},{"t":14.0,"b":"7-8","v":0.99},{"t":14.17,"b":"7-8","v":0.92},
{"t":14.7,"b":"3-4","v":0.52},{"t":14.64,"b":"4-5","v":0.77},{"t":14.62,"b":"5-6","v":0.7},{"t":14.7,"b":"6-7","v":0.83},{"t":14.7,"b":"7-8","v":0.72},
{"t":15.33,"b":"3-4","v":0.52},{"t":15.43,"b":"3-4","v":0.28},{"t":15.57,"b":"3-4","v":0.72},{"t":15.78,"b":"3-4","v":0.57},{"t":15.72,"b":"3-4","v":0.82},
{"t":15.38,"b":"4-5","v":0.7},{"t":15.77,"b":"4-5","v":0.72},
{"t":15.38,"b":"5-6","v":0.46},{"t":15.53,"b":"5-6","v":0.37},{"t":15.8,"b":"5-6","v":0.46},{"t":15.6,"b":"5-6","v":0.85},
{"t":15.43,"b":"6-7","v":0.9},{"t":15.57,"b":"6-7","v":0.59},{"t":15.62,"b":"6-7","v":0.86},{"t":15.52,"b":"6-7","v":0.66},
{"t":15.48,"b":"7-8","v":0.48},{"t":15.72,"b":"7-8","v":1.0},
{"t":16.3,"b":"3-4","v":1.0},{"t":16.3,"b":"6-7","v":0.82},{"t":16.32,"b":"4-5","v":0.8},
{"t":16.97,"b":"3-4","v":0.85},{"t":17.07,"b":"3-4","v":0.5},{"t":17.24,"b":"3-4","v":0.26},{"t":17.3,"b":"3-4","v":0.77},
{"t":16.97,"b":"4-5","v":0.79},{"t":17.2,"b":"4-5","v":0.68},{"t":17.3,"b":"4-5","v":0.39},{"t":17.43,"b":"4-5","v":0.9},
{"t":17.02,"b":"5-6","v":0.75},{"t":17.07,"b":"5-6","v":0.37},{"t":17.27,"b":"5-6","v":0.59},{"t":17.43,"b":"5-6","v":0.68},
{"t":16.97,"b":"6-7","v":0.59},{"t":17.18,"b":"6-7","v":0.93},{"t":17.33,"b":"6-7","v":0.49},{"t":17.43,"b":"6-7","v":0.85},
{"t":16.97,"b":"7-8","v":0.96},{"t":17.15,"b":"7-8","v":1.0},{"t":17.4,"b":"7-8","v":0.94},{"t":17.35,"b":"7-8","v":0.78},
{"t":18.99,"b":"3-4","v":0.95},{"t":18.75,"b":"3-4","v":0.5},{"t":18.91,"b":"3-4","v":0.45},
{"t":19.04,"b":"4-5","v":0.99},{"t":18.9,"b":"4-5","v":0.67},{"t":18.98,"b":"4-5","v":0.6},
{"t":18.75,"b":"5-6","v":0.68},{"t":18.99,"b":"5-6","v":0.53},
{"t":18.8,"b":"6-7","v":0.63},
{"t":18.8,"b":"7-8","v":0.82},{"t":18.99,"b":"7-8","v":0.75},{"t":18.85,"b":"7-8","v":0.7},
{"t":18.75,"b":"8-9","v":1.0},{"t":18.9,"b":"8-9","v":0.94},{"t":18.85,"b":"8-9","v":0.62},
{"t":20.33,"b":"3-4","v":0.61},{"t":20.45,"b":"3-4","v":0.67},{"t":20.65,"b":"3-4","v":0.61},{"t":20.75,"b":"3-4","v":0.44},
{"t":20.2,"b":"4-5","v":0.56},{"t":20.55,"b":"4-5","v":0.63},{"t":20.65,"b":"4-5","v":0.34},
{"t":20.23,"b":"5-6","v":0.52},{"t":20.33,"b":"5-6","v":0.26},{"t":20.45,"b":"5-6","v":0.37},{"t":20.7,"b":"5-6","v":0.59},
{"t":20.25,"b":"6-7","v":0.48},{"t":20.5,"b":"6-7","v":0.55},
{"t":20.15,"b":"7-8","v":0.71},{"t":20.7,"b":"7-8","v":0.79},{"t":20.75,"b":"7-8","v":0.28},
{"t":20.23,"b":"8-9","v":0.83},{"t":20.36,"b":"8-9","v":0.75},{"t":20.53,"b":"8-9","v":0.45},{"t":20.3,"b":"8-9","v":0.37},
{"t":20.25,"b":"9-10","v":0.9},{"t":20.36,"b":"9-10","v":0.92},{"t":20.62,"b":"9-10","v":0.96},{"t":20.73,"b":"9-10","v":0.83},{"t":20.45,"b":"9-10","v":0.53},{"t":20.15,"b":"9-10","v":0.37},
{"t":21.78,"b":"3-4","v":0.56},{"t":21.97,"b":"3-4","v":0.64},{"t":22.07,"b":"3-4","v":0.46},{"t":22.26,"b":"3-4","v":0.45},{"t":22.45,"b":"3-4","v":0.42},{"t":22.5,"b":"3-4","v":0.2},
{"t":21.88,"b":"4-5","v":0.57},{"t":22.12,"b":"4-5","v":0.56},{"t":22.36,"b":"4-5","v":0.53},
{"t":21.78,"b":"5-6","v":0.71},{"t":22.07,"b":"5-6","v":0.72},{"t":22.2,"b":"5-6","v":0.66},{"t":22.5,"b":"5-6","v":0.72},
{"t":21.97,"b":"6-7","v":0.85},{"t":22.3,"b":"6-7","v":0.86},
{"t":21.83,"b":"7-8","v":0.83},{"t":22.1,"b":"7-8","v":0.82},
{"t":21.88,"b":"8-9","v":0.86},{"t":22.07,"b":"8-9","v":0.89},{"t":22.26,"b":"8-9","v":0.9},{"t":21.97,"b":"8-9","v":0.75},{"t":21.74,"b":"8-9","v":0.41},
{"t":21.78,"b":"9-10","v":0.96},{"t":21.97,"b":"9-10","v":0.97},{"t":22.2,"b":"9-10","v":0.99},{"t":22.43,"b":"9-10","v":1.0},{"t":22.42,"b":"9-10","v":0.81},
{"t":23.62,"b":"3-4","v":0.7},{"t":23.82,"b":"3-4","v":0.7},{"t":24.01,"b":"3-4","v":0.68},{"t":24.15,"b":"3-4","v":0.7},{"t":23.9,"b":"3-4","v":0.72},
{"t":23.42,"b":"4-5","v":0.79},{"t":23.8,"b":"4-5","v":0.8},{"t":24.1,"b":"4-5","v":0.79},{"t":23.6,"b":"4-5","v":0.76},
{"t":23.62,"b":"5-6","v":0.78},{"t":24.01,"b":"5-6","v":0.77},{"t":23.5,"b":"5-6","v":0.82},
{"t":23.53,"b":"6-7","v":0.86},{"t":24.2,"b":"6-7","v":0.84},{"t":23.75,"b":"6-7","v":0.81},
{"t":23.42,"b":"7-8","v":0.83},{"t":23.37,"b":"7-8","v":0.72},{"t":23.9,"b":"7-8","v":0.8},
{"t":23.44,"b":"8-9","v":0.9},{"t":23.62,"b":"8-9","v":0.91},{"t":24.1,"b":"8-9","v":0.94},{"t":23.67,"b":"8-9","v":0.63},{"t":23.86,"b":"8-9","v":0.57},{"t":24.01,"b":"8-9","v":0.52},
{"t":23.37,"b":"9-10","v":1.0},{"t":23.86,"b":"9-10","v":1.0},{"t":24.05,"b":"9-10","v":0.99},{"t":23.35,"b":"9-10","v":0.61},{"t":23.7,"b":"9-10","v":0.88}
],
"p6":[
{"t":12.3,"b":"3-4","v":96},{"t":12.63,"b":"3-4","v":51},{"t":12.72,"b":"3-4","v":24},{"t":12.85,"b":"3-4","v":75},{"t":12.98,"b":"3-4","v":71},{"t":13.07,"b":"3-4","v":24},{"t":12.78,"b":"3-4","v":-76},{"t":12.08,"b":"3-4","v":-84},
{"t":12.4,"b":"4-5","v":71},{"t":12.43,"b":"4-5","v":30},{"t":12.6,"b":"4-5","v":52},{"t":12.9,"b":"4-5","v":49},{"t":13.12,"b":"4-5","v":32},{"t":12.78,"b":"4-5","v":2},{"t":12.97,"b":"4-5","v":6},{"t":13.05,"b":"4-5","v":-78},{"t":13.1,"b":"4-5","v":-86},{"t":13.12,"b":"4-5","v":-30},{"t":12.15,"b":"4-5","v":-92},
{"t":12.35,"b":"5-6","v":74},{"t":12.48,"b":"5-6","v":69},{"t":12.78,"b":"5-6","v":-25},{"t":12.88,"b":"5-6","v":-61},{"t":12.98,"b":"5-6","v":-89},
{"t":12.3,"b":"6-7","v":82},{"t":12.55,"b":"6-7","v":54},{"t":12.65,"b":"6-7","v":43},{"t":12.78,"b":"6-7","v":76},{"t":13.12,"b":"6-7","v":10},{"t":12.17,"b":"6-7","v":-75},{"t":12.1,"b":"6-7","v":-80},
{"t":12.33,"b":"7-8","v":76},{"t":12.4,"b":"7-8","v":54},{"t":12.6,"b":"7-8","v":65},{"t":13.05,"b":"7-8","v":80},{"t":12.85,"b":"7-8","v":-6},{"t":12.95,"b":"7-8","v":-17},{"t":12.78,"b":"7-8","v":-48},{"t":13.12,"b":"7-8","v":-58},{"t":12.05,"b":"7-8","v":-64},{"t":12.2,"b":"7-8","v":-89},
{"t":13.74,"b":"3-4","v":60},{"t":13.84,"b":"3-4","v":16},{"t":13.93,"b":"3-4","v":49},{"t":14.0,"b":"3-4","v":46},{"t":14.17,"b":"3-4","v":27},
{"t":13.88,"b":"4-5","v":41},{"t":14.07,"b":"4-5","v":52},{"t":14.17,"b":"4-5","v":52},
{"t":13.74,"b":"5-6","v":-9},{"t":13.93,"b":"5-6","v":-6},{"t":14.1,"b":"5-6","v":32},{"t":14.22,"b":"5-6","v":54},
{"t":13.72,"b":"6-7","v":76},{"t":13.79,"b":"6-7","v":43},{"t":14.03,"b":"6-7","v":35},{"t":14.2,"b":"6-7","v":43},
{"t":13.74,"b":"7-8","v":52},{"t":13.88,"b":"7-8","v":71},{"t":14.12,"b":"7-8","v":30},
{"t":14.64,"b":"3-4","v":38},{"t":14.66,"b":"3-4","v":35},{"t":14.64,"b":"4-5","v":43},{"t":14.74,"b":"4-5","v":18},{"t":14.7,"b":"6-7","v":52},{"t":14.7,"b":"7-8","v":57},
{"t":15.38,"b":"3-4","v":24},{"t":15.43,"b":"3-4","v":-17},{"t":15.6,"b":"3-4","v":50},{"t":15.67,"b":"3-4","v":24},
{"t":15.38,"b":"4-5","v":35},{"t":15.51,"b":"4-5","v":-12},{"t":15.81,"b":"4-5","v":60},
{"t":15.33,"b":"5-6","v":16},{"t":15.43,"b":"5-6","v":10},{"t":15.58,"b":"5-6","v":62},{"t":15.77,"b":"5-6","v":40},
{"t":15.43,"b":"6-7","v":54},{"t":15.62,"b":"6-7","v":57},{"t":15.72,"b":"6-7","v":7},{"t":15.81,"b":"6-7","v":-26},
{"t":15.53,"b":"7-8","v":21},{"t":15.5,"b":"7-8","v":54},{"t":15.72,"b":"7-8","v":13},
{"t":16.3,"b":"3-4","v":8},{"t":16.3,"b":"7-8","v":-3},{"t":16.31,"b":"6-7","v":-4},{"t":16.3,"b":"5-6","v":-31},{"t":16.3,"b":"4-5","v":-58},
{"t":16.97,"b":"3-4","v":35},{"t":17.05,"b":"3-4","v":-78},{"t":17.18,"b":"3-4","v":-61},{"t":17.24,"b":"3-4","v":10},{"t":17.4,"b":"3-4","v":-62},
{"t":16.97,"b":"4-5","v":40},{"t":17.12,"b":"4-5","v":40},{"t":17.38,"b":"4-5","v":58},{"t":17.32,"b":"4-5","v":16},
{"t":16.97,"b":"5-6","v":54},{"t":17.08,"b":"5-6","v":89},{"t":17.35,"b":"5-6","v":21},
{"t":17.05,"b":"6-7","v":71},{"t":17.22,"b":"6-7","v":52},{"t":17.25,"b":"6-7","v":85},
{"t":16.97,"b":"7-8","v":68},{"t":17.1,"b":"7-8","v":76},{"t":17.24,"b":"7-8","v":-75},{"t":17.4,"b":"7-8","v":68},
{"t":18.75,"b":"3-4","v":79},{"t":18.91,"b":"3-4","v":-12},{"t":18.99,"b":"3-4","v":-25},
{"t":18.8,"b":"4-5","v":46},{"t":18.75,"b":"4-5","v":63},{"t":18.97,"b":"4-5","v":30},
{"t":18.8,"b":"5-6","v":71},{"t":19.04,"b":"5-6","v":27},{"t":18.88,"b":"5-6","v":-92},
{"t":18.75,"b":"6-7","v":54},{"t":19.06,"b":"6-7","v":79},
{"t":18.87,"b":"7-8","v":93},{"t":18.8,"b":"7-8","v":32},{"t":18.99,"b":"7-8","v":-41},
{"t":18.85,"b":"8-9","v":87},{"t":19.04,"b":"8-9","v":84},{"t":18.75,"b":"8-9","v":21},{"t":19.04,"b":"8-9","v":16},
{"t":20.45,"b":"3-4","v":18},{"t":20.58,"b":"3-4","v":16},{"t":20.81,"b":"3-4","v":17},{"t":20.29,"b":"3-4","v":5},{"t":20.41,"b":"3-4","v":-6},{"t":20.65,"b":"3-4","v":-25},
{"t":20.34,"b":"4-5","v":10},{"t":20.68,"b":"4-5","v":5},{"t":20.53,"b":"4-5","v":-12},
{"t":20.2,"b":"5-6","v":-6},{"t":20.62,"b":"5-6","v":-15},{"t":20.15,"b":"5-6","v":-26},
{"t":20.25,"b":"6-7","v":-8},{"t":20.15,"b":"6-7","v":-42},{"t":20.77,"b":"6-7","v":-71},
{"t":20.38,"b":"7-8","v":87},{"t":20.48,"b":"7-8","v":79},{"t":20.29,"b":"7-8","v":57},{"t":20.15,"b":"7-8","v":40},{"t":20.15,"b":"7-8","v":-58},{"t":20.7,"b":"7-8","v":-59},{"t":20.75,"b":"7-8","v":-20},
{"t":20.38,"b":"8-9","v":80},{"t":20.2,"b":"8-9","v":69},{"t":20.7,"b":"8-9","v":57},{"t":20.2,"b":"8-9","v":32},{"t":20.43,"b":"8-9","v":-53},{"t":20.34,"b":"8-9","v":-20},
{"t":20.29,"b":"9-10","v":41},{"t":20.38,"b":"9-10","v":38},{"t":20.53,"b":"9-10","v":35},{"t":20.1,"b":"9-10","v":2},{"t":20.6,"b":"9-10","v":-23},{"t":20.8,"b":"9-10","v":-64},{"t":20.65,"b":"9-10","v":-84},
{"t":22.02,"b":"3-4","v":2},{"t":22.31,"b":"3-4","v":10},{"t":22.36,"b":"3-4","v":-4},{"t":21.78,"b":"3-4","v":-42},{"t":22.45,"b":"3-4","v":-39},{"t":22.17,"b":"3-4","v":-23},
{"t":21.88,"b":"4-5","v":-12},{"t":21.95,"b":"4-5","v":-37},{"t":22.31,"b":"4-5","v":-20},
{"t":21.8,"b":"5-6","v":-21},{"t":22.1,"b":"5-6","v":-15},
{"t":22.05,"b":"6-7","v":-9},{"t":22.4,"b":"6-7","v":-10},{"t":22.36,"b":"6-7","v":-15},
{"t":21.9,"b":"7-8","v":-17},{"t":22.2,"b":"7-8","v":-10},{"t":22.5,"b":"7-8","v":-12},
{"t":22.52,"b":"8-9","v":21},{"t":21.9,"b":"8-9","v":-53},{"t":22.25,"b":"8-9","v":-18},
{"t":22.05,"b":"9-10","v":30},{"t":21.85,"b":"9-10","v":-6},{"t":21.78,"b":"9-10","v":-23},{"t":22.24,"b":"9-10","v":-37},{"t":22.4,"b":"9-10","v":-25},
{"t":24.16,"b":"3-4","v":21},{"t":23.97,"b":"3-4","v":10},{"t":24.06,"b":"3-4","v":5},{"t":23.53,"b":"3-4","v":-20},{"t":23.93,"b":"3-4","v":-23},
{"t":23.37,"b":"4-5","v":7},{"t":23.72,"b":"4-5","v":-4},{"t":24.16,"b":"4-5","v":-10},
{"t":23.82,"b":"5-6","v":-9},{"t":23.62,"b":"5-6","v":-11},{"t":24.05,"b":"5-6","v":-5},
{"t":23.62,"b":"6-7","v":-6},{"t":24.06,"b":"6-7","v":-1},{"t":23.9,"b":"6-7","v":-2},
{"t":23.53,"b":"7-8","v":-1},{"t":23.9,"b":"7-8","v":-4},{"t":24.1,"b":"7-8","v":-8},
{"t":24.0,"b":"8-9","v":43},{"t":23.82,"b":"8-9","v":18},{"t":23.41,"b":"8-9","v":-26},{"t":23.88,"b":"8-9","v":-34},
{"t":23.82,"b":"9-10","v":65},{"t":24.11,"b":"9-10","v":62},{"t":23.97,"b":"9-10","v":2},{"t":23.37,"b":"9-10","v":-15},{"t":23.41,"b":"9-10","v":-30},{"t":23.62,"b":"9-10","v":-42},{"t":24.15,"b":"9-10","v":-42},{"t":24.06,"b":"9-10","v":-59},{"t":23.92,"b":"9-10","v":-75}
]
},
"vconcat":[
{"width":448,"height":127,
"layer":[
{"data":{"name":"p1"},"mark":{"type":"point","shape":"M-1,0H1M0,-1V1","filled":false,"size":90,"strokeWidth":1,"opacity":0.75},
"encoding":{
"x":{"field":"t","type":"quantitative","scale":{"domain":[12,24.95],"nice":false,"zero":false},"axis":{"orient":"bottom","values":[12,13,14,15,16,17,18,19,20,21,22,23,24],"labelExpr":"datum.value % 2 === 0 ? ((datum.value % 24) < 10 ? '0' : '') + (datum.value % 24) + ':00' : ''","title":null}},
"y":{"field":"v","type":"quantitative","scale":{"type":"log","domain":[0.01,11500],"nice":false},"axis":{"orient":"left","values":[0.01,0.02,0.03,0.04,0.05,0.06,0.07,0.08,0.09,0.1,0.2,0.3,0.4,0.5,0.6,0.7,0.8,0.9,1,2,3,4,5,6,7,8,9,10,20,30,40,50,60,70,80,90,100,200,300,400,500,600,700,800,900,1000,2000,3000,4000,5000,6000,7000,8000,9000,10000],"format":".2f","labelExpr":"abs(log(datum.value)/LN10 - round(log(datum.value)/LN10)) < 0.001 ? datum.label : ''","tickSize":{"condition":{"test":"abs(log(datum.value)/LN10 - round(log(datum.value)/LN10)) < 0.001","value":-7},"value":-4},"labelPadding":10,"title":"Flux [ph/s/cm²]","titleX":-55,"titleBaseline":"middle"}},
"color":{"field":"b","type":"nominal","scale":{"domain":["3-4","4-5","5-6","6-7","7-8","8-9","9-10"],"range":["#000000","#ff0000","#ff0080","#ff8000","#ffff00","#808000","#00ff00"]},"legend":null}}},
{"data":{"values":[{}]},"mark":{"type":"point","opacity":0},
"encoding":{"x":{"datum":18,"type":"quantitative","axis":{"orient":"top","values":[12,13,14,15,16,17,18,19,20,21,22,23,24],"labels":false,"title":null}},
"y":{"datum":100,"type":"quantitative","axis":{"orient":"right","values":[0.01,0.02,0.03,0.04,0.05,0.06,0.07,0.08,0.09,0.1,0.2,0.3,0.4,0.5,0.6,0.7,0.8,0.9,1,2,3,4,5,6,7,8,9,10,20,30,40,50,60,70,80,90,100,200,300,400,500,600,700,800,900,1000,2000,3000,4000,5000,6000,7000,8000,9000,10000],"labels":false,"title":null,"tickSize":{"condition":{"test":"abs(log(datum.value)/LN10 - round(log(datum.value)/LN10)) < 0.001","value":-7},"value":-4}}}}}
],
"resolve":{"axis":{"x":"independent","y":"independent"}}},
{"width":448,"height":127,
"layer":[
{"data":{"name":"p2"},"mark":{"type":"point","shape":"M-1,0H1M0,-1V1","filled":false,"size":90,"strokeWidth":1,"opacity":0.75},
"encoding":{
"x":{"field":"t","type":"quantitative","scale":{"domain":[12,24.95],"nice":false,"zero":false},"axis":{"orient":"bottom","values":[12,13,14,15,16,17,18,19,20,21,22,23,24],"labelExpr":"datum.value % 2 === 0 ? ((datum.value % 24) < 10 ? '0' : '') + (datum.value % 24) + ':00' : ''","title":null}},
"y":{"field":"v","type":"quantitative","scale":{"domain":[80,281],"nice":false,"zero":false},"axis":{"orient":"left","values":[80,90,100,110,120,130,140,150,160,170,180,190,200,210,220,230,240,250,260,270,280],"labelExpr":"datum.value % 50 === 0 ? datum.label : ''","tickSize":{"condition":{"test":"datum.value % 50 === 0","value":-7},"value":-4},"labelPadding":10,"title":"Source altitude [\"]","titleX":-31,"titleBaseline":"middle"}},
"color":{"field":"b","type":"nominal","scale":{"domain":["3-4","4-5","5-6","6-7","7-8","8-9","9-10"],"range":["#000000","#ff0000","#ff0080","#ff8000","#ffff00","#808000","#00ff00"]},
"legend":{"orient":"none","legendX":9,"legendY":3,"title":null,"symbolSize":0,"symbolOpacity":0,"symbolStrokeWidth":0,"labelFont":"DejaVu Sans","labelFontSize":14,"labelOffset":0,"clipHeight":13.3,"rowPadding":0,"padding":0,"labelLimit":200,"labelExpr":"datum.label + ' keV'","labelColor":{"expr":"scale('color', datum.value)"}}}}},
{"data":{"values":[{}]},"mark":{"type":"point","opacity":0},
"encoding":{"x":{"datum":18,"type":"quantitative","axis":{"orient":"top","values":[12,13,14,15,16,17,18,19,20,21,22,23,24],"labels":false,"title":null}},
"y":{"datum":150,"type":"quantitative","axis":{"orient":"right","values":[80,90,100,110,120,130,140,150,160,170,180,190,200,210,220,230,240,250,260,270,280],"labels":false,"title":null,"tickSize":{"condition":{"test":"datum.value % 50 === 0","value":-7},"value":-4}}}}}
],
"resolve":{"axis":{"x":"independent","y":"independent"}}},
{"width":448,"height":127,
"layer":[
{"data":{"name":"p3"},"mark":{"type":"point","shape":"M-1,0H1M0,-1V1","filled":false,"size":90,"strokeWidth":1,"opacity":0.75},
"encoding":{
"x":{"field":"t","type":"quantitative","scale":{"domain":[12,24.95],"nice":false,"zero":false},"axis":{"orient":"bottom","values":[12,13,14,15,16,17,18,19,20,21,22,23,24],"labelExpr":"datum.value % 2 === 0 ? ((datum.value % 24) < 10 ? '0' : '') + (datum.value % 24) + ':00' : ''","title":null}},
"y":{"field":"v","type":"quantitative","scale":{"domain":[-50,104],"nice":false,"zero":false},"axis":{"orient":"left","values":[-50,-45,-40,-35,-30,-25,-20,-15,-10,-5,0,5,10,15,20,25,30,35,40,45,50,55,60,65,70,75,80,85,90,95,100],"labelExpr":"datum.value % 20 === 0 ? datum.label : ''","tickSize":{"condition":{"test":"datum.value % 20 === 0","value":-7},"value":-4},"labelPadding":10,"title":["Source distance","to radial [\"]"],"titleX":-38,"titleBaseline":"middle","titleLineHeight":13}},
"color":{"field":"b","type":"nominal","scale":{"domain":["3-4","4-5","5-6","6-7","7-8","8-9","9-10"],"range":["#000000","#ff0000","#ff0080","#ff8000","#ffff00","#808000","#00ff00"]},"legend":null}}},
{"data":{"values":[{}]},"mark":{"type":"point","opacity":0},
"encoding":{"x":{"datum":18,"type":"quantitative","axis":{"orient":"top","values":[12,13,14,15,16,17,18,19,20,21,22,23,24],"labels":false,"title":null}},
"y":{"datum":0,"type":"quantitative","axis":{"orient":"right","values":[-50,-45,-40,-35,-30,-25,-20,-15,-10,-5,0,5,10,15,20,25,30,35,40,45,50,55,60,65,70,75,80,85,90,95,100],"labels":false,"title":null,"tickSize":{"condition":{"test":"datum.value % 20 === 0","value":-7},"value":-4}}}}}
],
"resolve":{"axis":{"x":"independent","y":"independent"}}},
{"width":448,"height":127,
"layer":[
{"data":{"name":"p4"},"mark":{"type":"point","shape":"M-1,0H1M0,-1V1","filled":false,"size":90,"strokeWidth":1,"opacity":0.75},
"encoding":{
"x":{"field":"t","type":"quantitative","scale":{"domain":[12,24.95],"nice":false,"zero":false},"axis":{"orient":"bottom","values":[12,13,14,15,16,17,18,19,20,21,22,23,24],"labelExpr":"datum.value % 2 === 0 ? ((datum.value % 24) < 10 ? '0' : '') + (datum.value % 24) + ':00' : ''","title":null}},
"y":{"field":"v","type":"quantitative","scale":{"domain":[-6,205],"nice":false,"zero":false},"axis":{"orient":"left","values":[0,10,20,30,40,50,60,70,80,90,100,110,120,130,140,150,160,170,180,190,200],"labelExpr":"datum.value % 50 === 0 ? datum.label : ''","tickSize":{"condition":{"test":"datum.value % 50 === 0","value":-7},"value":-4},"labelPadding":10,"title":"Source FWHM [\"]","titleX":-31,"titleBaseline":"middle"}},
"color":{"field":"b","type":"nominal","scale":{"domain":["3-4","4-5","5-6","6-7","7-8","8-9","9-10"],"range":["#000000","#ff0000","#ff0080","#ff8000","#ffff00","#808000","#00ff00"]},"legend":null}}},
{"data":{"values":[{}]},"mark":{"type":"point","opacity":0},
"encoding":{"x":{"datum":18,"type":"quantitative","axis":{"orient":"top","values":[12,13,14,15,16,17,18,19,20,21,22,23,24],"labels":false,"title":null}},
"y":{"datum":100,"type":"quantitative","axis":{"orient":"right","values":[0,10,20,30,40,50,60,70,80,90,100,110,120,130,140,150,160,170,180,190,200],"labels":false,"title":null,"tickSize":{"condition":{"test":"datum.value % 50 === 0","value":-7},"value":-4}}}}}
],
"resolve":{"axis":{"x":"independent","y":"independent"}}},
{"width":448,"height":127,
"layer":[
{"data":{"name":"p5"},"mark":{"type":"point","shape":"M-1,0H1M0,-1V1","filled":false,"size":90,"strokeWidth":1,"opacity":0.75},
"encoding":{
"x":{"field":"t","type":"quantitative","scale":{"domain":[12,24.95],"nice":false,"zero":false},"axis":{"orient":"bottom","values":[12,13,14,15,16,17,18,19,20,21,22,23,24],"labelExpr":"datum.value % 2 === 0 ? ((datum.value % 24) < 10 ? '0' : '') + (datum.value % 24) + ':00' : ''","title":null}},
"y":{"field":"v","type":"quantitative","scale":{"domain":[-0.025,1.025],"nice":false,"zero":false},"axis":{"orient":"left","values":[0,0.05,0.1,0.15,0.2,0.25,0.3,0.35,0.4,0.45,0.5,0.55,0.6,0.65,0.7,0.75,0.8,0.85,0.9,0.95,1],"format":".1f","labelExpr":"abs(datum.value*5 - round(datum.value*5)) < 0.001 ? datum.label : ''","tickSize":{"condition":{"test":"abs(datum.value*5 - round(datum.value*5)) < 0.001","value":-7},"value":-4},"labelPadding":10,"title":"Source eccentricity","titleX":-29,"titleBaseline":"middle"}},
"color":{"field":"b","type":"nominal","scale":{"domain":["3-4","4-5","5-6","6-7","7-8","8-9","9-10"],"range":["#000000","#ff0000","#ff0080","#ff8000","#ffff00","#808000","#00ff00"]},"legend":null}}},
{"data":{"values":[{}]},"mark":{"type":"point","opacity":0},
"encoding":{"x":{"datum":18,"type":"quantitative","axis":{"orient":"top","values":[12,13,14,15,16,17,18,19,20,21,22,23,24],"labels":false,"title":null}},
"y":{"datum":0.5,"type":"quantitative","axis":{"orient":"right","values":[0,0.05,0.1,0.15,0.2,0.25,0.3,0.35,0.4,0.45,0.5,0.55,0.6,0.65,0.7,0.75,0.8,0.85,0.9,0.95,1],"labels":false,"title":null,"tickSize":{"condition":{"test":"abs(datum.value*5 - round(datum.value*5)) < 0.001","value":-7},"value":-4}}}}}
],
"resolve":{"axis":{"x":"independent","y":"independent"}}},
{"width":448,"height":127,
"layer":[
{"data":{"name":"p6"},"mark":{"type":"point","shape":"M-1,0H1M0,-1V1","filled":false,"size":90,"strokeWidth":1,"opacity":0.75},
"encoding":{
"x":{"field":"t","type":"quantitative","scale":{"domain":[12,24.95],"nice":false,"zero":false},"axis":{"orient":"bottom","values":[12,13,14,15,16,17,18,19,20,21,22,23,24],"labelExpr":"datum.value % 2 === 0 ? ((datum.value % 24) < 10 ? '0' : '') + (datum.value % 24) + ':00' : ''","title":null}},
"y":{"field":"v","type":"quantitative","scale":{"domain":[-103,106],"nice":false,"zero":false},"axis":{"orient":"left","values":[-100,-90,-80,-70,-60,-50,-40,-30,-20,-10,0,10,20,30,40,50,60,70,80,90,100],"labelExpr":"datum.value % 50 === 0 ? datum.label : ''","tickSize":{"condition":{"test":"datum.value % 50 === 0","value":-7},"value":-4},"labelPadding":10,"title":"Source orientation[deg.]","titleX":-38,"titleBaseline":"middle"}},
"color":{"field":"b","type":"nominal","scale":{"domain":["3-4","4-5","5-6","6-7","7-8","8-9","9-10"],"range":["#000000","#ff0000","#ff0080","#ff8000","#ffff00","#808000","#00ff00"]},"legend":null}}},
{"data":{"values":[{}]},"mark":{"type":"point","opacity":0},
"encoding":{"x":{"datum":18,"type":"quantitative","axis":{"orient":"top","values":[12,13,14,15,16,17,18,19,20,21,22,23,24],"labels":false,"title":null}},
"y":{"datum":0,"type":"quantitative","axis":{"orient":"right","values":[-100,-90,-80,-70,-60,-50,-40,-30,-20,-10,0,10,20,30,40,50,60,70,80,90,100],"labels":false,"title":null,"tickSize":{"condition":{"test":"datum.value % 50 === 0","value":-7},"value":-4}}}}}
],
"resolve":{"axis":{"x":"independent","y":"independent"}}}
]
}
